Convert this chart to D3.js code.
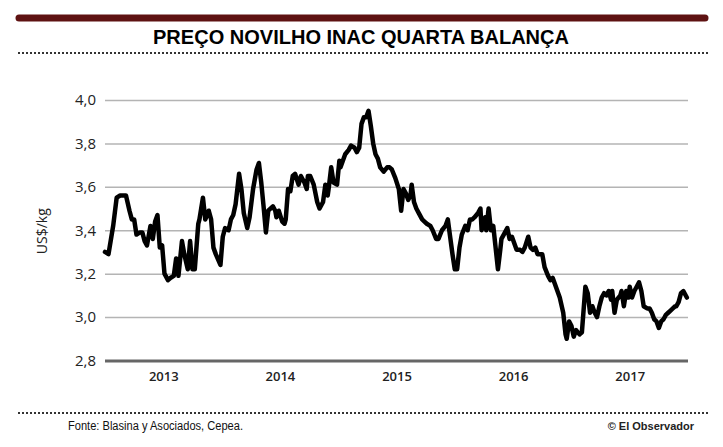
<!DOCTYPE html>
<html>
<head>
<meta charset="utf-8">
<script src="https://cdn.jsdelivr.net/npm/d3@7"></script>
<style>
  body { margin: 0; background: #fff; }
</style>
</head>
<body>
<div id="chart"></div>
<script>
// chart texts
var title = 'PREÇO NOVILHO INAC QUARTA BALANÇA';
var yTitle = 'US$/kg';
var source = 'Fonte: Blasina y Asociados, Cepea.';
var credit = '© El Observador';

// axes
var years = [2013, 2014, 2015, 2016, 2017];
var yearLabels = ['2013', '2014', '2015', '2016', '2017'];
var yTicks = [2.8, 3.0, 3.2, 3.4, 3.6, 3.8, 4.0];

// series (date as decimal year, price in US$/kg)
var dates = [
  2013.00, 2013.03, 2013.07, 2013.10, 2013.13, 2013.16, 2013.18, 2013.21, 2013.23, 2013.25,
  2013.27, 2013.30, 2013.32, 2013.34, 2013.36, 2013.39, 2013.41, 2013.43, 2013.45, 2013.47,
  2013.49, 2013.51, 2013.54, 2013.56, 2013.59, 2013.61, 2013.63, 2013.66, 2013.68, 2013.71,
  2013.73, 2013.75, 2013.77, 2013.80, 2013.81, 2013.84, 2013.86, 2013.89, 2013.91, 2013.93,
  2013.95, 2013.99, 2014.01, 2014.03, 2014.06, 2014.08, 2014.10, 2014.12, 2014.15, 2014.17,
  2014.19, 2014.22, 2014.24, 2014.27, 2014.30, 2014.32, 2014.34, 2014.36, 2014.38, 2014.40,
  2014.44, 2014.46, 2014.47, 2014.49, 2014.52, 2014.54, 2014.55, 2014.57, 2014.59, 2014.61,
  2014.63, 2014.66, 2014.68, 2014.71, 2014.73, 2014.74, 2014.76, 2014.79, 2014.82, 2014.84,
  2014.87, 2014.89, 2014.91, 2014.92, 2014.94, 2014.96, 2014.99, 2015.01, 2015.02, 2015.04,
  2015.06, 2015.09, 2015.11, 2015.14, 2015.16, 2015.18, 2015.20, 2015.22, 2015.24, 2015.26,
  2015.28, 2015.30, 2015.32, 2015.34, 2015.36, 2015.39, 2015.42, 2015.44, 2015.46, 2015.49,
  2015.52, 2015.54, 2015.56, 2015.58, 2015.60, 2015.62, 2015.63, 2015.65, 2015.67, 2015.69,
  2015.72, 2015.74, 2015.76, 2015.79, 2015.81, 2015.84, 2015.86, 2015.89, 2015.92, 2015.94,
  2015.96, 2015.98, 2016.00, 2016.02, 2016.04, 2016.06, 2016.09, 2016.11, 2016.13, 2016.15,
  2016.17, 2016.20, 2016.22, 2016.23, 2016.26, 2016.27, 2016.29, 2016.31, 2016.33, 2016.35,
  2016.37, 2016.39, 2016.40, 2016.42, 2016.45, 2016.47, 2016.49, 2016.51, 2016.53, 2016.56,
  2016.58, 2016.60, 2016.63, 2016.65, 2016.67, 2016.69, 2016.71, 2016.73, 2016.75, 2016.77,
  2016.80, 2016.82, 2016.84, 2016.86, 2016.88, 2016.90, 2016.93, 2016.95, 2016.96, 2016.98,
  2017.00, 2017.02, 2017.04, 2017.07, 2017.09, 2017.12, 2017.14, 2017.16, 2017.18, 2017.20,
  2017.22, 2017.24, 2017.26, 2017.28, 2017.30, 2017.32, 2017.34, 2017.35, 2017.37, 2017.39,
  2017.42, 2017.43, 2017.45, 2017.47, 2017.49, 2017.50, 2017.52, 2017.54, 2017.56, 2017.58,
  2017.60, 2017.62, 2017.65, 2017.67, 2017.69, 2017.71, 2017.73, 2017.75, 2017.77, 2017.79,
  2017.81, 2017.83, 2017.85, 2017.87, 2017.89, 2017.90, 2017.92, 2017.94, 2017.96, 2017.99
];
var prices = [
  3.30, 3.29, 3.42, 3.55, 3.56, 3.56, 3.56, 3.49, 3.45, 3.45,
  3.38, 3.39, 3.39, 3.35, 3.33, 3.42, 3.36, 3.44, 3.47, 3.32,
  3.33, 3.20, 3.17, 3.18, 3.19, 3.27, 3.19, 3.35, 3.29, 3.22,
  3.35, 3.22, 3.22, 3.43, 3.45, 3.55, 3.45, 3.49, 3.45, 3.32,
  3.29, 3.24, 3.37, 3.41, 3.40, 3.45, 3.47, 3.52, 3.66, 3.59,
  3.48, 3.41, 3.46, 3.59, 3.68, 3.71, 3.62, 3.51, 3.39, 3.49,
  3.51, 3.49, 3.46, 3.49, 3.44, 3.43, 3.45, 3.59, 3.58, 3.65,
  3.66, 3.61, 3.65, 3.62, 3.59, 3.65, 3.65, 3.61, 3.53, 3.50,
  3.53, 3.61, 3.56, 3.60, 3.69, 3.62, 3.61, 3.72, 3.69, 3.72,
  3.75, 3.77, 3.79, 3.78, 3.76, 3.78, 3.89, 3.92, 3.92, 3.95,
  3.88, 3.80, 3.75, 3.73, 3.69, 3.67, 3.69, 3.69, 3.68, 3.64,
  3.59, 3.49, 3.59, 3.57, 3.54, 3.56, 3.61, 3.53, 3.50, 3.48,
  3.45, 3.44, 3.43, 3.42, 3.40, 3.36, 3.36, 3.40, 3.42, 3.45,
  3.37, 3.29, 3.22, 3.22, 3.32, 3.38, 3.42, 3.40, 3.45, 3.45,
  3.46, 3.48, 3.50, 3.40, 3.46, 3.40, 3.50, 3.40, 3.42, 3.32,
  3.22, 3.31, 3.36, 3.38, 3.41, 3.36, 3.37, 3.34, 3.31, 3.31,
  3.30, 3.32, 3.37, 3.32, 3.31, 3.32, 3.29, 3.29, 3.29, 3.23,
  3.19, 3.17, 3.18, 3.15, 3.12, 3.09, 3.02, 2.92, 2.90, 2.98,
  2.96, 2.91, 2.94, 2.92, 2.93, 3.14, 3.11, 3.02, 3.05, 3.02,
  3.00, 3.05, 3.09, 3.11, 3.10, 3.12, 3.08, 3.12, 3.02, 3.08,
  3.10, 3.12, 3.05, 3.12, 3.09, 3.14, 3.09, 3.12, 3.14, 3.16,
  3.12, 3.05, 3.04, 3.04, 3.02, 2.99, 2.98, 2.95, 2.98, 2.99,
  3.01, 3.02, 3.03, 3.04, 3.05, 3.05, 3.07, 3.11, 3.12, 3.09
];

var width = 723, height = 447;
var plot = { left: 105, right: 688, top: 100, bottom: 360.5 };

var svg = d3.select('#chart').append('svg')
  .attr('width', width)
  .attr('height', height)
  .style('font-family', '"Open Sans", sans-serif');

svg.append('rect').attr('width', width).attr('height', height).attr('fill', '#fff');

var x = d3.scaleLinear().domain([2013, 2018]).range([plot.left, plot.right]);
var y = d3.scaleLinear().domain([2.8, 4.0]).range([plot.bottom, plot.top]);

// header: maroon bar, title, dotted rule
svg.append('line')
  .attr('x1', 19).attr('x2', 705).attr('y1', 18).attr('y2', 18)
  .attr('stroke', '#5e1212').attr('stroke-width', 7).attr('stroke-linecap', 'round');

svg.append('text')
  .attr('x', 361).attr('y', 44)
  .attr('text-anchor', 'middle')
  .attr('textLength', 416).attr('lengthAdjust', 'spacingAndGlyphs')
  .style('font-family', '"Liberation Sans Narrow", "Liberation Sans", Arial, sans-serif')
  .style('font-weight', 'bold').style('font-size', '21px')
  .attr('fill', '#000')
  .text(title);

function dottedRule(yPos) {
  svg.append('line')
    .attr('x1', 18).attr('x2', 709).attr('y1', yPos).attr('y2', yPos)
    .attr('stroke', '#333').attr('stroke-width', 2)
    .attr('stroke-dasharray', '2,2');
}
dottedRule(53);
dottedRule(413);

// y grid and labels
var yAxis = d3.axisLeft(y)
  .tickValues(yTicks)
  .tickSize(-(plot.right - plot.left))
  .tickPadding(9)
  .tickFormat(function(d) { return d3.format('.1f')(d).replace('.', ','); });

var gy = svg.append('g')
  .attr('transform', 'translate(' + plot.left + ',0)')
  .call(yAxis);
gy.select('.domain').remove();
gy.selectAll('.tick line')
  .attr('stroke', function(d) { return d === 2.8 ? '#666' : '#b4b4b4'; })
  .attr('stroke-width', function(d) { return d === 2.8 ? 3 : 1.5; });
gy.selectAll('.tick text')
  .attr('x', -9)
  .style('font-family', '"Open Sans", sans-serif')
  .style('font-size', '15px')
  .attr('fill', '#222');

svg.append('text')
  .attr('transform', 'translate(47,' + ((plot.top + plot.bottom) / 2 + 1) + ') rotate(-90)')
  .attr('text-anchor', 'middle')
  .style('font-size', '14px')
  .attr('fill', '#222')
  .text(yTitle);

// x labels centred in each year
var xAxis = d3.axisBottom(x)
  .tickValues(years.map(function(d) { return d + 0.5; }))
  .tickSize(0)
  .tickPadding(0)
  .tickFormat(function(d, i) { return yearLabels[i]; });

var gx = svg.append('g')
  .attr('transform', 'translate(0,' + (plot.bottom + 11) + ')')
  .call(xAxis);
gx.select('.domain').remove();
gx.selectAll('.tick text')
  .style('font-family', '"Open Sans", sans-serif')
  .style('font-size', '13px')
  .style('font-weight', '600')
  .attr('fill', '#222');

// price line
var points = dates.map(function(d, i) { return { date: d, price: prices[i] }; });

var line = d3.line()
  .x(function(d) { return x(d.date); })
  .y(function(d) { return y(d.price); });

svg.append('path')
  .datum(points)
  .attr('d', line)
  .attr('fill', 'none')
  .attr('stroke', '#000')
  .attr('stroke-width', 4.5)
  .attr('stroke-linejoin', 'round')
  .attr('stroke-linecap', 'round');

// footer
svg.append('text')
  .attr('x', 68).attr('y', 430)
  .attr('textLength', 175).attr('lengthAdjust', 'spacingAndGlyphs')
  .style('font-family', '"Liberation Sans Narrow", "Liberation Sans", Arial, sans-serif')
  .style('font-size', '12px')
  .attr('fill', '#111')
  .text(source);

svg.append('text')
  .attr('x', 694).attr('y', 430)
  .attr('text-anchor', 'end')
  .style('font-family', '"Liberation Sans Narrow", "Liberation Sans", Arial, sans-serif')
  .style('font-size', '11px')
  .style('font-weight', 'bold')
  .attr('fill', '#222')
  .text(credit);
</script>
</body>
</html>
